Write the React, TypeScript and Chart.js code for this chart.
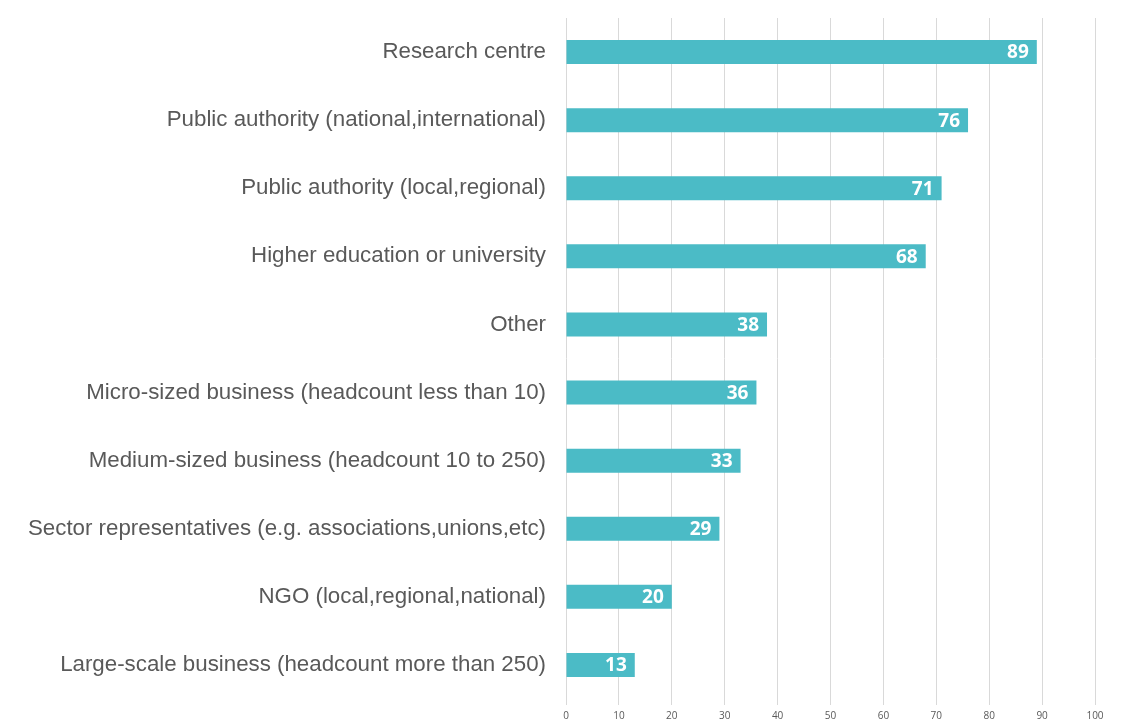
import React, { useEffect, useRef } from "react";
import { Chart, registerables } from "chart.js";

Chart.register(...registerables);

const categories = [
  "Research centre",
  "Public authority (national,international)",
  "Public authority (local,regional)",
  "Higher education or university",
  "Other",
  "Micro-sized business (headcount less than 10)",
  "Medium-sized business (headcount 10 to 250)",
  "Sector representatives (e.g. associations,unions,etc)",
  "NGO (local,regional,national)",
  "Large-scale business (headcount more than 250)",
];
const values = [89, 76, 71, 68, 38, 36, 33, 29, 20, 13];
const xMin = 0;
const xMax = 100;
const xStep = 10;

const barColor = "#4BBBC6";

const valueLabels = {
  id: "valueLabels",
  afterDatasetsDraw(chart: any) {
    const ctx = chart.ctx;
    const meta = chart.getDatasetMeta(0);
    ctx.save();
    ctx.font = "bold 19px 'Open Sans'";
    ctx.fillStyle = "#ffffff";
    ctx.textAlign = "right";
    ctx.textBaseline = "middle";
    meta.data.forEach((el: any, i: number) => {
      ctx.fillText(String(values[i]), el.x - 8, el.y + 1);
    });
    ctx.restore();
  },
};

export default function App() {
  const ref = useRef<HTMLCanvasElement | null>(null);
  useEffect(() => {
    if (!ref.current) return;
    const chart = new Chart(ref.current, {
      type: "bar",
      data: {
        labels: categories,
        datasets: [
          {
            data: values,
            backgroundColor: barColor,
            borderWidth: 0,
            categoryPercentage: 1,
            barPercentage: 0.353,
          },
        ],
      },
      options: {
        indexAxis: "y",
        animation: false,
        responsive: false,
        maintainAspectRatio: false,
        layout: { padding: { top: 18, right: 29, left: 0, bottom: 0 } },
        plugins: {
          legend: { display: false },
          tooltip: { enabled: false },
        },
        scales: {
          x: {
            min: xMin,
            max: xMax,
            ticks: {
              stepSize: xStep,
              color: "#595959",
              font: { family: "'Open Sans'", size: 10 },
              padding: 5,
            },
            grid: {
              color: "#d9d9d9",
              lineWidth: 1,
              tickLength: 6,
              tickColor: "#d9d9d9",
            },
            border: { display: false },
            afterFit(scale: any) {
              scale.height = 32;
            },
          },
          y: {
            ticks: {
              color: "#595959",
              font: { family: "'Liberation Sans', Arial", size: 22.3 },
              padding: 12,
            },
            grid: { display: false },
            border: { display: false },
            afterFit(scale: any) {
              scale.width = 566;
              scale.paddingTop = 0;
              scale.paddingBottom = 0;
            },
          },
        },
      },
      plugins: [valueLabels],
    });
    return () => chart.destroy();
  }, []);
  return (
    <div
      style={{
        position: "fixed",
        left: 0,
        top: 0,
        width: 1124,
        height: 719,
        overflow: "hidden",
        background: "#fff",
      }}
    >
      <canvas ref={ref} width={1124} height={731} style={{ display: "block" }} />
    </div>
  );
}
